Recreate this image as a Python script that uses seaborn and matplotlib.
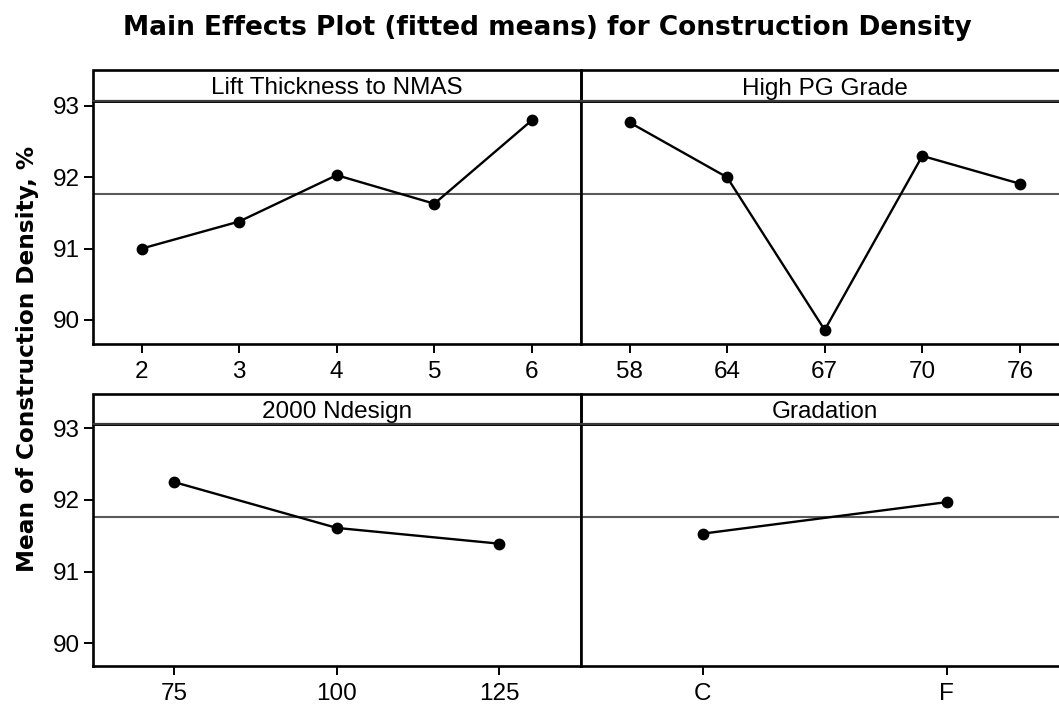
import matplotlib
matplotlib.use("Agg")
import matplotlib.pyplot as plt
from matplotlib.patches import Rectangle
import seaborn as sns

# Factor levels and fitted means of construction density (%)
lift_levels = ["2", "3", "4", "5", "6"]
lift_means = [91.00, 91.38, 92.03, 91.63, 92.80]

pg_levels = ["58", "64", "67", "70", "76"]
pg_means = [92.77, 92.00, 89.86, 92.30, 91.91]

ndesign_levels = ["75", "100", "125"]
ndesign_means = [92.25, 91.61, 91.39]

gradation_levels = ["C", "F"]
gradation_means = [91.53, 91.97]

panel_titles = ["Lift Thickness to NMAS", "High PG Grade", "2000 Ndesign", "Gradation"]
grand_mean = 91.76
y_ticks = [90, 91, 92, 93]

sns.set_theme(style="white")
plt.rcParams["font.family"] = ["Liberation Sans", "DejaVu Sans"]

W, H = 1059, 705
fig = plt.figure(figsize=(W / 100, H / 100), dpi=100)

left = 92.7 / W
pw = 488.0 / W
rows = [
    dict(bottom=(H - 344.3) / H, hpx=243.6, ylim=(89.659, 93.074), strip_px=30.7),
    dict(bottom=(H - 666.0) / H, hpx=242.0, ylim=(89.683, 93.06), strip_px=30.0),
]

panels = [
    (lift_levels, lift_means),
    (pg_levels, pg_means),
    (ndesign_levels, ndesign_means),
    (gradation_levels, gradation_means),
]

for i, (levels, means) in enumerate(panels):
    r, c = divmod(i, 2)
    row = rows[r]
    ax = fig.add_axes([left + c * pw, row["bottom"], pw, row["hpx"] / H])
    ax.axhline(grand_mean, color="#5a5a5a", lw=1.5, zorder=1)
    sns.pointplot(x=levels, y=means, order=levels, ax=ax, color="black",
                  errorbar=None, markers="o", markersize=7.2, linewidth=1.7,
                  zorder=3)
    ax.set_xlim(-0.5, len(levels) - 0.5)
    ax.set_ylim(*row["ylim"])
    ax.set_xlabel("")
    ax.set_ylabel("")
    for s in ax.spines.values():
        s.set_visible(True)
        s.set_color("black")
        s.set_linewidth(1.9)
    ax.tick_params(axis="x", which="major", bottom=True, length=6.5, width=1.4,
                   color="black", labelsize=17.5, pad=5.5, labelcolor="black")
    ax.set_yticks(y_ticks)
    if c == 0:
        ax.tick_params(axis="y", left=True, length=6.5, width=1.4, color="black",
                       labelsize=17.5, pad=3, labelcolor="black")
    else:
        ax.tick_params(axis="y", left=False, labelleft=False)
    ax.grid(False)
    # strip header above the plotting area
    sh = row["strip_px"] / row["hpx"]
    ax.add_patch(Rectangle((0, 1), 1, sh, transform=ax.transAxes, fill=False,
                           edgecolor="black", lw=1.9, clip_on=False, zorder=5))
    ax.plot([0, 1], [1, 1], transform=ax.transAxes, color="#3a3a3a", lw=1.6,
            clip_on=False, zorder=6)
    ax.text(0.5, 1 + 6.2 / row["hpx"], panel_titles[i], transform=ax.transAxes,
            ha="center", va="baseline", fontsize=17.5, color="black")

fig.text(547 / W, 1 - 35 / H,
         "Main Effects Plot (fitted means) for Construction Density",
         ha="center", va="baseline", fontsize=19, fontweight="bold",
         color="black", family="DejaVu Sans")
fig.text(28 / W, 1 - 359 / H, "Mean of Construction Density, %",
         rotation=90, ha="center", va="center", fontsize=16.7,
         fontweight="bold", color="black", family="DejaVu Sans")

fig.savefig("out.png", dpi=100, facecolor="white")
